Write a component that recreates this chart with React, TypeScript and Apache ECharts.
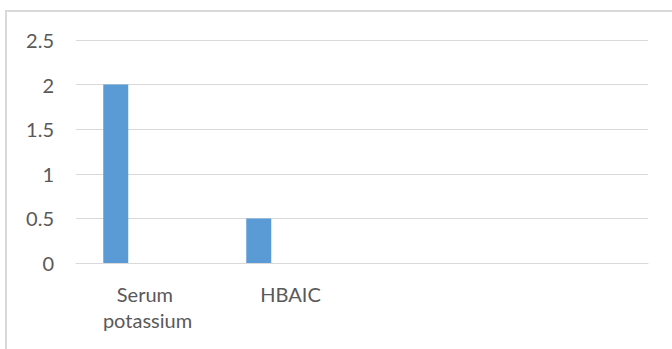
import React, { useEffect, useRef } from "react";
import * as echarts from "echarts";

const categories = ["Serum potassium", "HBAIC", "", ""];
const series1 = [2, 0.5, null, null];
const series2 = [null, null, null, null];
const series3 = [null, null, null, null];
const yTicks = { min: 0, max: 2.5, interval: 0.5 };

export default function App() {
  const ref = useRef<HTMLDivElement>(null);
  useEffect(() => {
    if (!ref.current) return;
    const chart = echarts.init(ref.current, null, { renderer: "svg" });
    const font = "Lato, 'Open Sans', sans-serif";
    const mk = (name: string, data: (number | null)[]) => ({
      name,
      type: "bar",
      data,
      barWidth: 25,
      barGap: "27%",
      itemStyle: { color: "#5b9bd5" },
    });
    chart.setOption({
      animation: false,
      backgroundColor: "#ffffff",
      grid: { left: 76, right: 24, top: 40, bottom: 86, containLabel: false },
      graphic: [
        {
          type: "rect",
          shape: { x: 6, y: 11, width: 720, height: 400 },
          style: { fill: "none", stroke: "#d9d9d9", lineWidth: 2 },
          silent: true,
        },
      ],
      xAxis: {
        type: "category",
        data: categories,
        axisTick: { show: false },
        axisLine: { lineStyle: { color: "#d9d9d9", width: 1 } },
        axisLabel: {
          color: "#595959",
          fontFamily: font,
          fontSize: 20,
          lineHeight: 26,
          margin: 18,
          width: 120,
          overflow: "break",
          interval: 0,
        },
      },
      yAxis: {
        type: "value",
        min: yTicks.min,
        max: yTicks.max,
        interval: yTicks.interval,
        axisLine: { show: false },
        axisTick: { show: false },
        splitLine: { lineStyle: { color: "#d9d9d9", width: 1 } },
        axisLabel: {
          color: "#595959",
          fontFamily: font,
          fontSize: 20,
          margin: 22,
        },
      },
      series: [mk("S1", series1), mk("S2", series2), mk("S3", series3)],
    });
    return () => chart.dispose();
  }, []);
  return (
    <div
      ref={ref}
      style={{ position: "fixed", left: 0, top: 0, width: 672, height: 349 }}
    />
  );
}
